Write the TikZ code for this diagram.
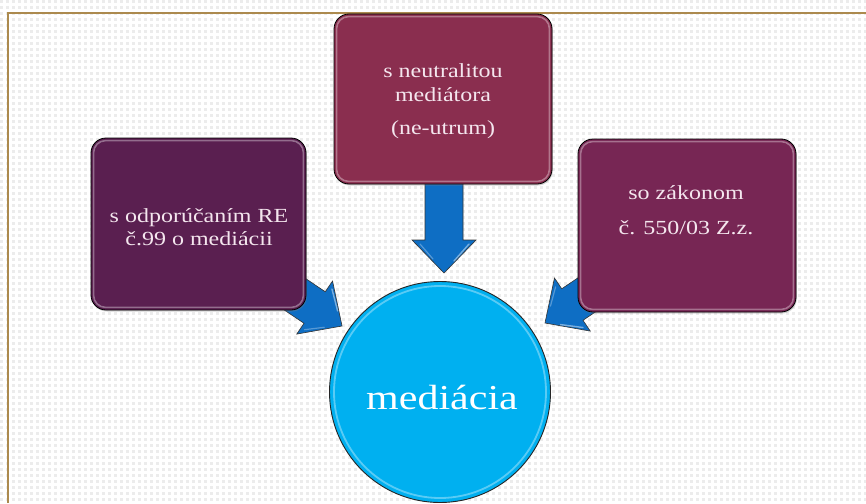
\documentclass[tikz,border=0pt]{standalone}
\usepackage{fontspec}
\setmainfont{Liberation Serif}
\newfontfamily\boxfont[FakeStretch=1.2]{Liberation Serif}
\usetikzlibrary{shadows}
\definecolor{bgdot}{RGB}{236,236,236}
\definecolor{frameline}{RGB}{172,138,78}
\definecolor{boxL}{RGB}{90,31,80}
\definecolor{boxT}{RGB}{138,46,79}
\definecolor{boxR}{RGB}{119,38,84}
\definecolor{txtpink}{RGB}{244,230,238}
\definecolor{arrowblue}{RGB}{14,110,196}
\definecolor{circblue}{RGB}{0,176,240}
\tikzset{
  boxnode/.style={rectangle, rounded corners=15pt, draw=black, line width=0.8pt,
    drop shadow={opacity=0.35, shadow xshift=0.8pt, shadow yshift=-1.5pt}},
  gloss/.style={draw=white, opacity=0.35, line width=1.6pt, rounded corners=12pt},
  boxtext/.style={font=\boxfont\fontsize{20}{24}\selectfont, text=txtpink, inner sep=0pt, anchor=base},
  bigtext/.style={font=\boxfont\fontsize{35}{40}\selectfont, text=white, inner sep=0pt, anchor=base},
  arrowfill/.style={fill=arrowblue, draw=black!80, line width=0.6pt, line join=miter},
  pics/barrow/.style={code={
    \filldraw[arrowfill] (0,0) -- (-33,32) -- (-33,19) -- (-#1,19) -- (-#1,-19) -- (-33,-19) -- (-33,-32) -- cycle;
    \draw[white, opacity=0.45, line width=1.4pt, line cap=round] (-29,-25) -- (-12,-10);
    \draw[white, opacity=0.3, line width=1.2pt, line cap=round] (-29,24) -- (-14,11);
  }}
}
\begin{document}
\begin{tikzpicture}[x=1pt,y=-1pt]
\useasboundingbox (0,0) rectangle (866,503);
\clip (0,0) rectangle (866,503);
% background dotted grid
\fill[white] (0,0) rectangle (866,503);
\foreach \yy in {1.5,7.5,...,503}
  \draw[bgdot, line width=3pt, dash pattern=on 3pt off 3pt] (0,\yy) -- (866,\yy);
% frame lines
\draw[frameline, line width=2pt] (7.5,503) -- (7.5,13.5) -- (866,13.5);
% arrow tips
\coordinate (tipT) at (444,273);
\coordinate (tipL) at (342,326);
\coordinate (tipR) at (545,323);
\pic[rotate=-90] at (tipT) {barrow=95};
\pic[rotate=-34] at (tipL) {barrow=75};
\pic[rotate=-146] at (tipR) {barrow=75};
% boxes
\node[boxnode, fill=boxL, minimum width=215pt, minimum height=172pt] (left) at (198.5,224) {};
\node[boxnode, fill=boxT, minimum width=218pt, minimum height=170pt] (top) at (443,99) {};
\node[boxnode, fill=boxR, minimum width=218pt, minimum height=173pt] (right) at (687,225.5) {};
\foreach \b in {left,top,right}
  \draw[gloss] ([xshift=3pt,yshift=-3pt]\b.north west) rectangle ([xshift=-3pt,yshift=3pt]\b.south east);
% circle
\node[circle, fill=circblue, draw=black!85, line width=0.9pt, minimum size=221pt, inner sep=0pt] (med) at (440,392) {};
\draw[white, opacity=0.35, line width=1.8pt] (med.center) circle[radius=106pt];
% texts
\node[boxtext] (l1) at (199,222) {s odporúčaním RE};
\node[boxtext] (l2) at (199,245) {č.99 o mediácii};
\node[boxtext] (t1) at (443,77) {s neutralitou};
\node[boxtext] (t2) at (443,101) {mediátora};
\node[boxtext] (t3) at (443,134) {(ne-utrum)};
\node[boxtext] (r1) at (686,199) {so zákonom};
\node[boxtext] (r2) at (686,234) {č. 550/03 Z.z.};
\node[bigtext] (mt) at (442,409) {mediácia};
\end{tikzpicture}
\end{document}
